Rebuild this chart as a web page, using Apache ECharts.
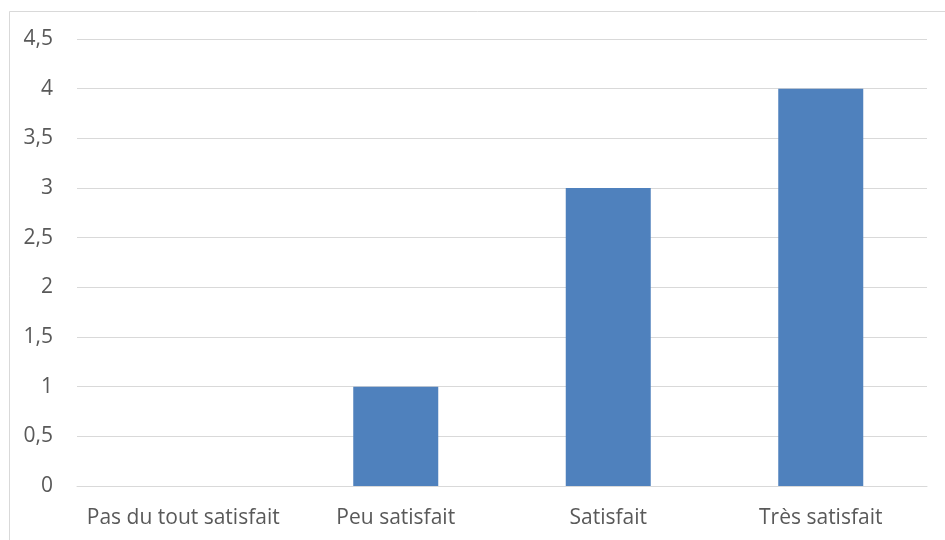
<!DOCTYPE html>
<html><head><meta charset="utf-8">
<script src="https://cdn.jsdelivr.net/npm/echarts@6/dist/echarts.min.js"></script>
<style>html,body{margin:0;padding:0;background:#fff}#c{width:945px;height:540px}</style>
</head><body><div id="c"></div>
<script>
const categories = ["Pas du tout satisfait", "Peu satisfait", "Satisfait", "Très satisfait"];
const values = [0, 1, 3, 4];
const yTicks = [0, 0.5, 1, 1.5, 2, 2.5, 3, 3.5, 4, 4.5];

const chart = echarts.init(document.getElementById('c'), null, {renderer: 'canvas'});
const font = '"Open Sans", "Noto Sans", sans-serif';
chart.setOption({
  animation: false,
  backgroundColor: '#ffffff',
  graphic: [{
    type: 'rect', left: 7, top: 9, shape: {width: 1000, height: 1000},
    style: {fill: 'none', stroke: '#d9d9d9', lineWidth: 1}
  }],
  grid: {left: 77, right: 18, top: 39, bottom: 54, containLabel: false},
  xAxis: {
    type: 'category', data: categories,
    axisLine: {lineStyle: {color: '#d9d9d9', width: 1}},
    axisTick: {show: false},
    axisLabel: {color: '#595959', fontSize: 21, fontFamily: font, margin: 22, interval: 0}
  },
  yAxis: {
    type: 'value', min: yTicks[0], max: yTicks[yTicks.length - 1], interval: 0.5,
    axisLine: {show: false}, axisTick: {show: false},
    splitLine: {lineStyle: {color: '#d9d9d9', width: 1}},
    axisLabel: {color: '#595959', fontSize: 21, fontFamily: font, margin: 24,
      formatter: v => String(v).replace('.', ',')}
  },
  series: [{
    type: 'bar', data: values, barWidth: '40%',
    itemStyle: {color: '#4f81bd'}
  }]
});
</script></body></html>
